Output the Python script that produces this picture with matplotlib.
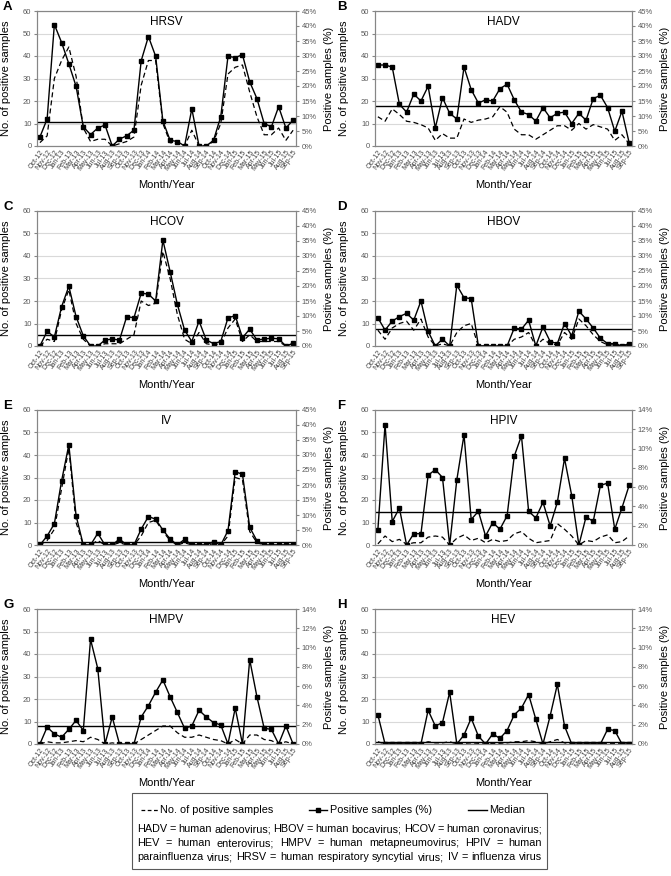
import matplotlib
matplotlib.use('Agg')
import matplotlib.pyplot as plt
import numpy as np
from matplotlib.lines import Line2D
from matplotlib.patches import Rectangle

plt.rcParams['font.family'] = ['Liberation Sans', 'DejaVu Sans']

# ---------------- data ----------------
months = ['Oct-12', 'Nov-12', 'Dec-12', 'Jan-13', 'Feb-13', 'Mar-13', 'Apr-13', 'May-13', 'Jun-13',
          'Jul-13', 'Aug-13', 'Sep-13', 'Oct-13', 'Nov-13', 'Dec-13', 'Jan-14', 'Feb-14', 'Mar-14',
          'Apr-14', 'May-14', 'Jun-14', 'Jul-14', 'Aug-14', 'Sep-14', 'Oct-14', 'Nov-14', 'Dec-14',
          'Jan-15', 'Feb-15', 'Mar-15', 'Apr-15', 'May-15', 'Jun-15', 'Jul-15', 'Aug-15', 'Sep-15']

hrsv_count = [1.5, 4.5, 30, 38, 44, 31, 8, 2, 3, 3, 0, 1, 2, 4, 27, 38, 38, 10, 1.5, 1, 0, 7, 0, 0,
              2, 10, 32, 35, 36, 24, 13, 5, 5, 8, 2.5, 7]
hrsv_pct = [3.0, 9.0, 40.5, 34.5, 27.4, 19.9, 6.4, 3.8, 6.0, 7.0, 0.0, 2.3, 3.4, 5.3, 28.4, 36.5,
            29.9, 8.3, 1.9, 1.5, 0.0, 12.4, 0.0, 0.0, 1.9, 9.8, 29.9, 29.5, 30.4, 21.4, 15.8, 7.5,
            6.4, 13.1, 6.0, 8.6]
hrsv_median = 7.9

hadv_count = [13, 11, 16.5, 14, 11, 10.5, 9.5, 8, 2.5, 5.5, 3.5, 3.5, 12, 10.5, 11.5, 12, 13, 17.5,
              15, 7.5, 5, 5, 3, 5, 7, 9, 9, 7, 10, 7.5, 9.5, 8.5, 7.5, 2.5, 5, 1]
hadv_pct = [27.0, 27.0, 26.3, 13.9, 11.3, 17.3, 15.0, 19.9, 6.0, 16.1, 10.9, 9.0, 26.3, 18.8, 14.3,
            15.4, 15.0, 19.1, 20.6, 15.4, 11.3, 10.5, 8.3, 12.8, 9.4, 10.9, 11.3, 7.5, 10.9, 8.6,
            15.8, 16.9, 12.8, 4.9, 11.6, 1.1]
hadv_median = 13.5

hcov_count = [0, 3, 2, 16, 25, 10, 3, 0, 0, 1, 1, 1, 3, 5, 20, 18, 19, 42, 30, 14, 3, 1, 6, 1, 0.5,
              1, 8, 12, 2, 5, 2, 2, 2, 2, 0, 1]
hcov_pct = [0, 4.9, 3.0, 13.1, 19.9, 9.8, 3.4, 0, 0, 2.0, 2.3, 2.0, 9.8, 9.4, 17.6, 17.3, 15.0, 35.3,
            24.8, 13.9, 5.3, 1.5, 8.3, 2.0, 0.8, 1.5, 9.4, 10.1, 2.8, 5.6, 2.0, 2.3, 2.6, 2.4, 0, 0.9]
hcov_median = 3.75

hbov_count = [7, 3, 8, 10, 11, 7, 12, 4, 0, 1, 0, 6, 9, 10, 0, 0, 0, 0, 0, 3, 4, 6, 0, 3, 1, 0.5,
              6, 3, 12, 9, 5, 2, 0.5, 0.5, 0, 0.5]
hbov_pct = [9.4, 5.3, 8.3, 9.8, 10.9, 8.6, 15.0, 4.9, 0, 2.3, 0, 20.3, 16.1, 15.8, 0, 0, 0, 0, 0,
            6.0, 5.6, 8.6, 0, 6.4, 1.5, 0.8, 7.5, 3.4, 11.6, 9.0, 6.0, 2.6, 0.8, 0.8, 0, 0.8]
hbov_median = 5.6

iv_count = [0, 2, 7, 25, 43, 10, 0, 0, 2, 0, 0, 1, 0, 0, 4, 10, 11, 6, 2, 0, 1, 0, 0, 0, 0.5, 0, 4,
            30, 29, 6, 1, 0, 0, 0, 0, 0]
iv_pct = [0, 3.0, 7.1, 21.4, 33.4, 9.8, 0, 0, 3.9, 0, 0, 2.0, 0, 0, 5.3, 9.5, 8.6, 5.0, 2.0, 0, 1.9,
          0, 0, 0, 1.1, 0, 4.8, 24.4, 23.6, 5.9, 1.4, 0, 0, 0, 0, 0]
iv_median = 1.1

hpiv_count = [0.5, 4, 1.5, 2.5, 0.3, 1, 1, 3.5, 4, 3.5, 0, 3, 4.5, 2, 3, 1, 2.5, 1.5, 2, 5, 6, 3, 1,
              1.5, 2, 9.5, 7, 4, 0, 2, 1.5, 3.5, 4.5, 1, 1.5, 4]
hpiv_pct = [1.56, 12.48, 2.43, 3.83, 0, 1.17, 1.17, 7.23, 7.82, 7.0, 0, 6.77, 11.43, 2.64, 3.5, 0.93,
            2.33, 1.63, 3.03, 9.22, 11.32, 3.5, 2.8, 4.43, 1.98, 4.43, 8.98, 5.13, 0, 2.92, 2.45,
            6.18, 6.42, 1.63, 3.85, 6.18]
hpiv_median = 3.45

hmpv_count = [0, 1, 0.5, 0.5, 1, 1.5, 1, 3, 2, 0, 0.5, 0, 0, 0, 2, 4, 6, 8, 8, 5, 3, 3, 4, 3, 2,
              1.5, 0, 2, 0, 4, 4, 2, 1.5, 0, 1, 0]
hmpv_pct = [0, 1.75, 1.05, 0.7, 1.52, 2.45, 1.4, 10.85, 7.82, 0, 2.8, 0, 0, 0, 2.8, 3.97, 5.37, 6.65,
            4.9, 3.27, 1.63, 1.87, 3.5, 2.8, 2.22, 1.98, 0, 3.73, 0, 8.75, 4.9, 1.63, 1.52, 0, 1.87, 0]
hmpv_median = 1.9

hev_count = [1, 0, 0, 0, 0, 0, 0, 1, 0.5, 0.5, 1, 0, 0.3, 0.5, 0.3, 0, 0.3, 0.3, 0.5, 1, 1, 1.5, 1,
             0, 1, 2, 0.5, 0, 0, 0, 0, 0, 0.3, 0.3, 0, 0]
hev_pct = [3.03, 0, 0, 0, 0, 0, 0, 3.5, 1.87, 2.22, 5.37, 0, 0.93, 2.68, 0.82, 0, 1.05, 0.58, 1.4,
           3.03, 3.73, 5.13, 2.57, 0, 2.92, 6.18, 1.87, 0, 0, 0, 0, 0, 1.52, 1.4, 0, 0]
hev_median = 0.25

panel_letters = ['A', 'B', 'C', 'D', 'E', 'F', 'G', 'H']
panel_names = ['HRSV', 'HADV', 'HCOV', 'HBOV', 'IV', 'HPIV', 'HMPV', 'HEV']
counts = [hrsv_count, hadv_count, hcov_count, hbov_count, iv_count, hpiv_count, hmpv_count, hev_count]
pcts = [hrsv_pct, hadv_pct, hcov_pct, hbov_pct, iv_pct, hpiv_pct, hmpv_pct, hev_pct]
medians = [hrsv_median, hadv_median, hcov_median, hbov_median, iv_median, hpiv_median,
           hmpv_median, hev_median]
right_max = [45, 45, 45, 45, 45, 14, 14, 14]
right_step = [5, 5, 5, 5, 5, 2, 2, 2]

# ---------------- layout ----------------
W, H = 671, 876
fig = plt.figure(figsize=(W / 100, H / 100), dpi=100)


def fx(p):
    return p / W


def fy(p):
    return 1 - p / H


col_left = [37, 375]
col_width = [259, 257]
row_top = [11, 211, 410, 609]
ax_h = 135
spine_c = '#868686'
tick_c = '#595959'

x = np.arange(len(months))
for i in range(8):
    r, c = divmod(i, 2)
    L, T = col_left[c], row_top[r]
    ax = fig.add_axes([fx(L), fy(T + ax_h), col_width[c] / W, ax_h / H])
    ax.set_xlim(-0.4, len(months) - 0.6)
    ax.set_ylim(0, 60)
    ax.set_yticks(np.arange(0, 61, 10))
    ax.yaxis.grid(True, color='#d9d9d9', lw=0.8)
    ax.set_axisbelow(True)
    ax.tick_params(axis='y', labelsize=5.5, labelcolor=tick_c, length=2, color=spine_c, pad=2)
    ax.set_xticks(x)
    ax.set_xticklabels(months, rotation=55, ha='right', rotation_mode='anchor',
                       fontsize=5, color='#404040')
    ax.tick_params(axis='x', length=0, pad=2)
    ax.plot(x, counts[i], color='black', lw=0.9, ls=(0, (4, 2.5)))

    ax2 = ax.twinx()
    ax2.set_ylim(0, right_max[i])
    rt = np.arange(0, right_max[i] + 0.01, right_step[i])
    ax2.set_yticks(rt)
    ax2.set_yticklabels([f'{int(v)}%' for v in rt])
    ax2.tick_params(axis='y', labelsize=5.5, labelcolor=tick_c, length=2, color=spine_c, pad=2)
    ax2.plot(x, pcts[i], color='black', lw=1, marker='s', ms=3)
    ax2.axhline(medians[i], color='black', lw=1)

    for a in (ax, ax2):
        for s in a.spines.values():
            s.set_color(spine_c)
            s.set_linewidth(0.8)

    ax.text(0.5, 0.96, panel_names[i], transform=ax.transAxes, ha='center', va='top', fontsize=8.5)
    ax.set_ylabel('No. of positive samples', fontsize=8)
    ax.yaxis.set_label_coords(-0.1, 0.5)
    ax2.set_ylabel('Positive samples (%)', fontsize=8)
    ax2.yaxis.set_label_coords(1.11, 0.5)

    fig.text(fx(L + col_width[c] / 2), fy(T + 174), 'Month/Year', ha='center', va='center',
             fontsize=8)
    fig.text(fx(3 + c * 334), fy(T - 10), panel_letters[i], ha='left', va='top',
             fontsize=9.5, fontweight='bold')

# ---------------- legend box ----------------
fig.add_artist(Rectangle((fx(132), fy(869)), (547 - 132) / W, (869 - 793) / H,
                         transform=fig.transFigure, fill=False, ec='#595959', lw=0.8))
ly = fy(810)
fs_leg = 7.8
fig.add_artist(Line2D([fx(141), fx(158)], [ly, ly], transform=fig.transFigure,
                      color='black', lw=0.9, ls=(0, (3, 2))))
fig.text(fx(160), ly, 'No. of positive samples', va='center', fontsize=fs_leg)
fig.add_artist(Line2D([fx(309), fx(318), fx(327)], [ly, ly, ly], transform=fig.transFigure,
                      color='black', lw=1, marker='s', ms=3, markevery=[1]))
fig.text(fx(330), ly, 'Positive samples (%)', va='center', fontsize=fs_leg)
fig.add_artist(Line2D([fx(468), fx(487)], [ly, ly], transform=fig.transFigure,
                      color='black', lw=1))
fig.text(fx(489), ly, 'Median', va='center', fontsize=fs_leg)

lines = ['HADV = human adenovirus; HBOV = human bocavirus; HCOV = human coronavirus;',
         'HEV = human enterovirus; HMPV = human metapneumovirus; HPIV = human',
         'parainfluenza virus; HRSV = human respiratory syncytial virus; IV = influenza virus']
line_y = [829, 843, 857]
renderer = fig.canvas.get_renderer()
x0, x1 = 137, 542
for text, yy in zip(lines, line_y):
    words = text.split()
    ts = [fig.text(0, fy(yy), w, va='center', ha='left', fontsize=fs_leg) for w in words]
    widths = [t.get_window_extent(renderer).width for t in ts]
    gap = (x1 - x0 - sum(widths)) / (len(words) - 1)
    xx = x0
    for t, w in zip(ts, widths):
        t.set_x(fx(xx))
        xx += w + gap

fig.savefig('out.png', dpi=100)
